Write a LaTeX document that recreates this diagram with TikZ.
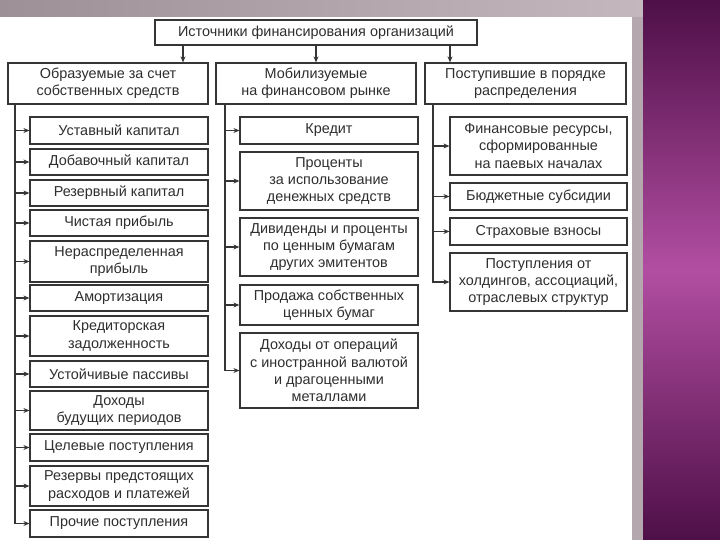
\documentclass[tikz,border=0pt]{standalone}
\usepackage{fontspec}
\setmainfont{Liberation Sans}
\usetikzlibrary{arrows.meta}
\definecolor{bordc}{HTML}{353535}
\definecolor{txtc}{HTML}{2E2E2E}
\definecolor{stripc}{HTML}{B5A7AE}
\definecolor{stripl}{HTML}{9E9097}
\definecolor{stripr}{HTML}{C4B7BD}
\definecolor{purpd}{HTML}{4E0F48}
\definecolor{purpm}{HTML}{B24EA1}
\tikzset{
  box/.style={draw=bordc, line width=1.2pt, fill=white, inner sep=0pt, align=center,
    text=txtc, font=\fontsize{14.4}{17.2}\selectfont},
  lbox/.style={box, minimum width=178pt},
  conn/.style={draw=bordc, line width=1.1pt, -{Stealth[length=6pt,width=5pt]}},
}
\begin{document}
\begin{tikzpicture}[x=1pt,y=-1pt]
\useasboundingbox (0,0) rectangle (720,540);
% background
\fill[white] (0,0) rectangle (720,540);
\shade[left color=stripl, right color=stripr] (0,0) rectangle (643,17);
\fill[stripc] (632,17) rectangle (643,540);
\shade[top color=purpd, bottom color=purpd, middle color=purpm] (643,0) rectangle (720,540);
% top
\node[box, minimum width=322pt, minimum height=25pt] (top) at (316,32.5) {Источники финансирования организаций};
% level 2
\node[box, minimum width=200pt, minimum height=41pt] (L) at (108,83.5) {Образуемые за счет\\собственных средств};
\node[box, minimum width=200pt, minimum height=41pt] (M) at (316,83.5) {Мобилизуемые\\на финансовом рынке};
\node[box, minimum width=201pt, minimum height=41pt] (R) at (525.5,83.5) {Поступившие в порядке\\распределения};
\draw[conn] ([xshift=-133pt]top.south) -- ([xshift=-133pt]top.south |- L.north);
\draw[conn] (top.south) -- (M.north);
\draw[conn] ([xshift=134pt]top.south) -- ([xshift=134pt]top.south |- R.north);
% left column
\node[lbox, minimum height=27pt] (l1) at (119,130.5) {Уставный капитал};
\node[lbox, minimum height=26pt] (l2) at (119,162) {Добавочный капитал};
\node[lbox, minimum height=26pt] (l3) at (119,193) {Резервный капитал};
\node[lbox, minimum height=26pt] (l4) at (119,223) {Чистая прибыль};
\node[lbox, minimum height=41pt] (l5) at (119,261.5) {Нераспределенная\\прибыль};
\node[lbox, minimum height=26pt] (l6) at (119,298) {Амортизация};
\node[lbox, minimum height=40pt] (l7) at (119,336) {Кредиторская\\задолженность};
\node[lbox, minimum height=26pt] (l8) at (119,374) {Устойчивые пассивы};
\node[lbox, minimum height=39pt] (l9) at (119,410.5) {Доходы\\будущих периодов};
\node[lbox, minimum height=27pt] (l10) at (119,447.5) {Целевые поступления};
\node[lbox, minimum height=40pt] (l11) at (119,486) {Резервы предстоящих\\расходов и платежей};
\node[lbox, minimum height=27pt] (l12) at (119,523.5) {Прочие поступления};
\coordinate (Lb) at (15,0);
\foreach \i in {1,...,12} \draw[conn] (Lb |- L.south) |- (l\i);
% middle column
\node[lbox, minimum height=27pt] (m1) at (329,130.5) {Кредит};
\node[lbox, minimum height=58pt] (m2) at (329,181) {Проценты\\за использование\\денежных средств};
\node[lbox, minimum height=58pt] (m3) at (329,247) {Дивиденды и проценты\\по ценным бумагам\\других эмитентов};
\node[lbox, minimum height=40pt] (m4) at (329,305) {Продажа собственных\\ценных бумаг};
\node[lbox, minimum height=75pt] (m5) at (329,370.5) {Доходы от операций\\с иностранной валютой\\и драгоценными\\металлами};
\coordinate (Mb) at (225,0);
\foreach \i in {1,...,5} \draw[conn] (Mb |- M.south) |- (m\i);
% right column
\node[box, minimum width=177pt, minimum height=58pt] (r1) at (538.5,146) {Финансовые ресурсы,\\сформированные\\на паевых началах};
\node[box, minimum width=177pt, minimum height=27pt] (r2) at (538.5,196.5) {Бюджетные субсидии};
\node[box, minimum width=177pt, minimum height=27pt] (r3) at (538.5,231.5) {Страховые взносы};
\node[box, minimum width=177pt, minimum height=58pt] (r4) at (538.5,282) {Поступления от\\холдингов, ассоциаций,\\отраслевых структур};
\coordinate (Rb) at (433,0);
\foreach \i in {1,...,4} \draw[conn] (Rb |- R.south) |- (r\i);
\end{tikzpicture}
\end{document}
